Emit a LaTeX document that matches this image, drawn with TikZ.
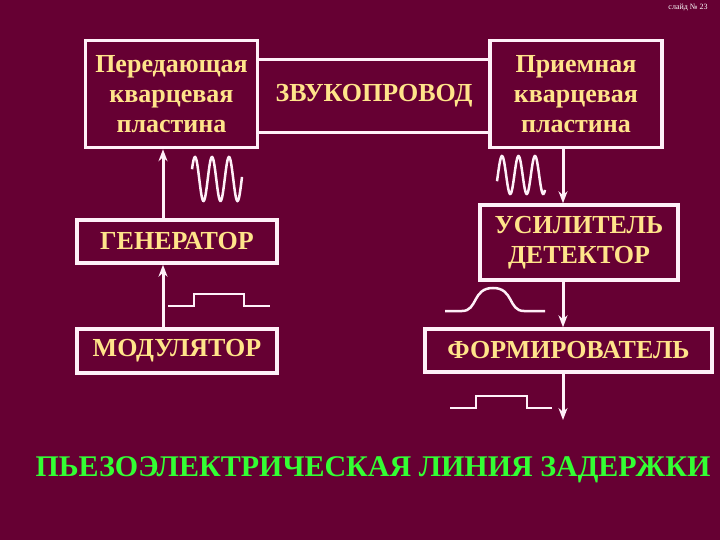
\documentclass[tikz,border=0pt]{standalone}
\usepackage{fontspec}
\setmainfont{Liberation Serif}
\usetikzlibrary{arrows.meta}
\definecolor{slidebg}{HTML}{660033}
\definecolor{boxline}{HTML}{FFF0F8}
\definecolor{boxtext}{HTML}{FFE48A}
\definecolor{titlegreen}{HTML}{33FF33}
\tikzstyle{block} = [rectangle, draw=boxline, line width=3.5pt, text=boxtext, font=\fontsize{26}{30}\selectfont\bfseries, align=center, inner sep=0pt]
\tikzstyle{duct} = [draw=boxline, line width=3.5pt]
\tikzstyle{wave} = [draw=boxline, line width=2.5pt]
\tikzstyle{flowline} = [draw=boxline, line width=3pt, -{Stealth[length=12pt, width=9pt]}]

\begin{document}
\begin{tikzpicture}[x=1pt, y=-1pt]
\fill[slidebg] (0,0) rectangle (720,540);
\useasboundingbox (0,0) rectangle (720,540);
\node (slideno) [text=white, font=\fontsize{8}{8}\selectfont] at (688,8) {слайд № 23};
% transmitting side
\node (tx) [block, minimum width=172pt, minimum height=107pt] at (171.5,94) {Передающая\\кварцевая\\пластина};
\node (gen) [block, minimum width=200pt, minimum height=43pt] at (177,241.5) {ГЕНЕРАТОР};
\node (mod) [block, minimum width=200pt, minimum height=44pt] at (177,351) {МОДУЛЯТОР};
% sound line
\node (duct) [minimum width=232pt, minimum height=73pt, text=boxtext, font=\fontsize{26}{30}\selectfont\bfseries] at (374,96) {ЗВУКОПРОВОД};
\draw [duct] (duct.north west) -- (duct.north east);
\draw [duct] (duct.south west) -- (duct.south east);
% receiving side
\node (rx) [block, minimum width=172pt, minimum height=107pt] at (576,94) {Приемная\\кварцевая\\пластина};
\node (amp) [block, minimum width=198pt, minimum height=75pt] at (579,242.5) {УСИЛИТЕЛЬ\\ДЕТЕКТОР};
\node (form) [block, minimum width=287pt, minimum height=43pt] at (568.5,350.5) {ФОРМИРОВАТЕЛЬ};
\coordinate (out) at (563,420);
\draw [flowline] ([xshift=-14pt]mod.north) -- ([xshift=-14pt]gen.south);
\draw [flowline] ([xshift=-14pt]gen.north) -- ([xshift=-8.5pt]tx.south);
\draw [flowline] ([xshift=-13pt]rx.south) -- ([xshift=-16pt]amp.north);
\draw [flowline] ([xshift=-16pt]amp.south) -- ([xshift=-5.5pt]form.north);
\draw [flowline] ([xshift=-5.5pt]form.south) -- (out);
% signals
\draw [wave] plot[domain=192:242, samples=100, smooth] (\x, {179-22*cos(21.18*(\x-195))});
\draw [wave] plot[domain=497:545, samples=100, smooth] (\x, {175-19*cos(21.82*(\x-502))});
\draw [wave] (168,306) -- (194,306) -- (194,294) -- (244,294) -- (244,306) -- (270,306);
\draw [wave] (445,311) -- (462,311) .. controls (478,311) and (472,288) .. (493,288) .. controls (514,288) and (508,311) .. (524,311) -- (545,311);
\draw [wave] (450,408) -- (476,408) -- (476,396) -- (527,396) -- (527,408) -- (552,408);
\node (title) [text=titlegreen, font=\fontsize{30}{30}\selectfont\bfseries] at (373,470) {ПЬЕЗОЭЛЕКТРИЧЕСКАЯ ЛИНИЯ ЗАДЕРЖКИ};
\end{tikzpicture}
\end{document}
